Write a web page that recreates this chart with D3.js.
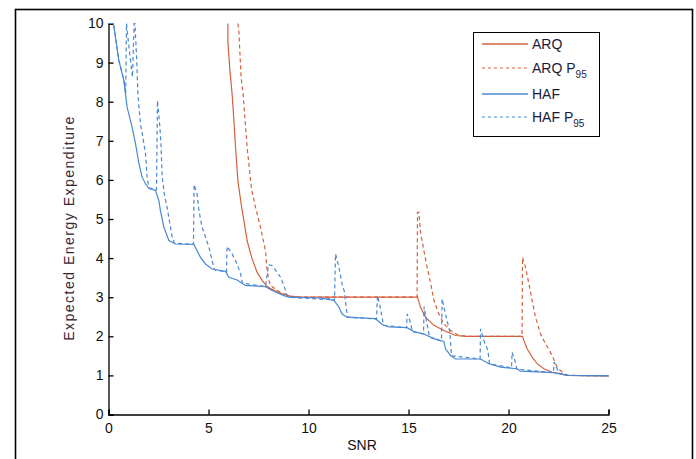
<!DOCTYPE html>
<html>
<head>
<meta charset="utf-8">
<script src="https://cdn.jsdelivr.net/npm/d3@7"></script>
<style>
	body { margin: 0; background: #fff; }
	text { font-family: "Liberation Sans", Arial, sans-serif; }
</style>
</head>
<body>
<div id="chart"></div>
<script>
// Values (SNR, expected energy expenditure)
const arqSnr = [5.97, 5.97, 6.07, 6.18, 6.27, 6.35, 6.47, 6.63, 6.77, 6.93, 7.18, 7.43, 7.68, 7.93, 8.1, 8.6, 9.1, 9.6, 15.45, 15.6, 15.85, 16.27, 16.77, 17.35, 17.93, 20.7, 20.77, 20.93, 21.18, 21.43, 21.77, 22.18, 22.6, 22.95, 25];
const arqVal = [10, 9.53, 8.8, 8.2, 7.52, 6.84, 5.98, 5.39, 4.96, 4.45, 3.98, 3.64, 3.43, 3.27, 3.22, 3.1, 3.02, 3.0, 3.0, 2.74, 2.49, 2.28, 2.15, 2.02, 2.0, 2.0, 1.89, 1.68, 1.47, 1.3, 1.17, 1.08, 1.04, 1.0, 0.99];

const arqP95Snr = [6.47, 6.52, 6.63, 6.73, 6.82, 6.93, 7.15, 7.35, 7.6, 7.85, 7.93, 8.02, 8.1, 8.6, 9.1, 9.6, 15.43, 15.45, 15.52, 15.6, 15.77, 15.93, 16.1, 16.27, 16.52, 16.77, 17.1, 17.52, 17.9, 20.68, 20.7, 20.85, 21.02, 21.18, 21.35, 21.6, 21.85, 22.18, 22.43, 22.77, 23.0, 25];
const arqP95Val = [10, 9.78, 8.63, 8.2, 7.6, 6.84, 5.77, 5.3, 4.79, 4.19, 3.68, 3.43, 3.3, 3.12, 3.03, 3.0, 3.0, 5.17, 5.17, 4.66, 4.19, 3.77, 3.38, 2.92, 2.57, 2.32, 2.15, 2.02, 2.0, 2.0, 4.02, 3.77, 3.34, 2.92, 2.49, 2.06, 1.81, 1.51, 1.21, 1.04, 1.0, 0.99];

const hafSnr = [0, 0.25, 0.52, 0.77, 0.93, 1.18, 1.35, 1.52, 1.68, 1.85, 2.02, 2.35, 2.52, 2.6, 2.77, 3.02, 3.35, 4.27, 4.43, 4.6, 4.85, 5.18, 5.85, 6.02, 6.43, 6.85, 7.85, 8.18, 8.77, 9.02, 10.6, 11.27, 11.52, 11.68, 11.93, 13.35, 13.68, 14.02, 14.93, 15.27, 15.77, 16.27, 16.77, 16.85, 17.1, 17.35, 18.6, 19.02, 19.6, 20.43, 20.6, 22.27, 22.77, 22.93, 25];
const hafVal = [10, 10, 9.05, 8.54, 7.86, 7.35, 6.93, 6.42, 6.07, 5.9, 5.78, 5.73, 5.47, 5.2, 4.79, 4.45, 4.36, 4.35, 4.19, 4.02, 3.85, 3.72, 3.66, 3.51, 3.44, 3.3, 3.27, 3.17, 3.04, 3.0, 2.98, 2.92, 2.75, 2.57, 2.49, 2.45, 2.3, 2.24, 2.22, 2.12, 2.06, 1.94, 1.87, 1.68, 1.51, 1.42, 1.42, 1.3, 1.21, 1.17, 1.11, 1.07, 1.02, 1.0, 0.99];

const hafP95Snr = [0, 0.25, 0.52, 0.77, 0.86, 0.9, 1.0, 1.1, 1.2, 1.28, 1.32, 1.4, 1.47, 1.6, 1.72, 1.85, 1.93, 2.02, 2.4, 2.45, 2.57, 2.63, 2.68, 2.8, 2.93, 3.1, 3.18, 3.3, 4.25, 4.28, 4.43, 4.52, 4.68, 4.85, 5.02, 5.18, 5.3, 5.9, 5.93, 6.18, 6.43, 6.6, 6.7, 7.85, 8.0, 8.18, 8.43, 8.6, 8.77, 8.9, 9.02, 10.9, 11.0, 11.2, 11.3, 11.35, 11.52, 11.68, 11.8, 11.88, 11.95, 13.4, 13.45, 13.57, 13.68, 13.75, 14.9, 14.93, 15.07, 15.2, 15.75, 15.78, 15.9, 16.05, 16.65, 16.68, 16.77, 16.93, 17.07, 17.15, 18.58, 18.6, 18.77, 18.97, 19.05, 20.15, 20.18, 20.32, 20.42, 22.25, 22.28, 22.43, 22.52, 22.93, 25];
const hafP95Val = [10, 10, 9.05, 8.54, 8.2, 10, 9.5, 9.05, 8.63, 10, 10, 9.2, 8.2, 7.43, 7.09, 6.67, 6.07, 5.8, 5.75, 8.03, 7.35, 6.84, 6.1, 5.6, 5.3, 4.79, 4.54, 4.38, 4.35, 5.88, 5.64, 5.22, 4.79, 4.54, 4.28, 3.94, 3.7, 3.64, 4.3, 4.11, 3.85, 3.6, 3.36, 3.27, 3.83, 3.81, 3.64, 3.51, 3.3, 3.08, 3.0, 2.94, 2.97, 2.93, 2.92, 4.11, 3.77, 3.34, 3.13, 2.75, 2.49, 2.44, 3.04, 2.79, 2.49, 2.28, 2.22, 2.57, 2.4, 2.12, 2.06, 2.76, 2.4, 1.98, 1.88, 2.96, 2.74, 2.4, 2.1, 1.5, 1.42, 2.19, 1.89, 1.64, 1.3, 1.19, 1.59, 1.38, 1.16, 1.07, 1.34, 1.17, 1.06, 1.0, 0.99];

const xTicks = [0, 5, 10, 15, 20, 25];
const yTicks = [0, 1, 2, 3, 4, 5, 6, 7, 8, 9, 10];

const red = "#d4603c";
const blue = "#4a88d2";

const width = 696;
const height = 459;

const svg = d3
	.select("#chart")
	.append("svg")
	.attr("width", width)
	.attr("height", height);

// figure frame (bottom edge runs off the picture)
svg.append("rect")
	.attr("x", 15.5)
	.attr("y", 9.5)
	.attr("width", 677)
	.attr("height", 470)
	.attr("fill", "none")
	.attr("stroke", "#000")
	.attr("stroke-width", 1.6);

const x = d3.scaleLinear().domain([0, 25]).range([108.5, 608.5]);
const y = d3.scaleLinear().domain([0, 10]).range([414.5, 23.5]);

svg.append("defs")
	.append("clipPath")
	.attr("id", "plotClip")
	.append("rect")
	.attr("x", x(0))
	.attr("y", y(10) - 1)
	.attr("width", x(25) - x(0) + 2)
	.attr("height", y(0) - y(10) + 1);

// axes with inward ticks
const xAxis = svg.append("g")
	.attr("transform", `translate(0,${y(0)})`)
	.call(d3.axisBottom(x).tickValues(xTicks).tickSize(-5).tickPadding(9).tickFormat(d3.format("d")));

const yAxis = svg.append("g")
	.attr("transform", `translate(${x(0)},0)`)
	.call(d3.axisLeft(y).tickValues(yTicks).tickSize(-5).tickPadding(5).tickFormat(d3.format("d")));

[xAxis, yAxis].forEach(g => {
	g.select(".domain").attr("stroke", "#000").attr("stroke-width", 1.3);
	g.selectAll(".tick line").attr("stroke", "#000").attr("stroke-width", 1.3);
	g.selectAll(".tick text")
		.attr("fill", "#111")
		.attr("font-size", 14)
		.style("font-family", "'Liberation Sans', Arial, sans-serif");
});

svg.append("text")
	.attr("x", 362)
	.attr("y", 450)
	.attr("text-anchor", "middle")
	.attr("font-size", 14)
	.attr("fill", "#111")
	.text("SNR");

svg.append("text")
	.attr("transform", "translate(74,228) rotate(-90)")
	.attr("text-anchor", "middle")
	.attr("font-size", 14)
	.attr("letter-spacing", 1.5)
	.attr("fill", "#3a2434")
	.text("Expected Energy Expenditure");

const line = d3.line()
	.x(d => x(d[0]))
	.y(d => y(d[1]));

const series = [
	{ snr: arqSnr, val: arqVal, color: red, dash: null },
	{ snr: arqP95Snr, val: arqP95Val, color: red, dash: "4,3" },
	{ snr: hafSnr, val: hafVal, color: blue, dash: null },
	{ snr: hafP95Snr, val: hafP95Val, color: blue, dash: "4,3" }
];

const plot = svg.append("g").attr("clip-path", "url(#plotClip)");

plot.selectAll("path")
	.data(series)
	.enter()
	.append("path")
	.attr("d", d => line(d3.zip(d.snr, d.val)))
	.attr("fill", "none")
	.attr("stroke", d => d.color)
	.attr("stroke-width", 1.2)
	.attr("stroke-dasharray", d => d.dash);

// legend
const legend = svg.append("g");

legend.append("rect")
	.attr("x", 473.5)
	.attr("y", 32.5)
	.attr("width", 126)
	.attr("height", 104)
	.attr("fill", "#fff")
	.attr("stroke", "#000")
	.attr("stroke-width", 1);

const legendNames = ["ARQ", "ARQ P", "HAF", "HAF P"];
const legendSub = ["", "95", "", "95"];
const legendY = [44, 68, 94, 117];

const item = legend.selectAll("g.item")
	.data(series)
	.enter()
	.append("g")
	.attr("class", "item")
	.attr("transform", (d, i) => `translate(0,${legendY[i]})`);

item.append("line")
	.attr("x1", 482)
	.attr("x2", 528)
	.attr("stroke", d => d.color)
	.attr("stroke-width", d => d.dash ? 1 : 1.6)
	.attr("stroke-dasharray", d => d.dash ? "3,3" : null);

const label = item.append("text")
	.attr("x", 532)
	.attr("y", 5)
	.attr("font-size", 14)
	.attr("fill", "#1a1a3a");

label.append("tspan").text((d, i) => legendNames[i]);
label.append("tspan")
	.attr("dy", 5)
	.attr("font-size", 10)
	.text((d, i) => legendSub[i]);
</script>
</body>
</html>
